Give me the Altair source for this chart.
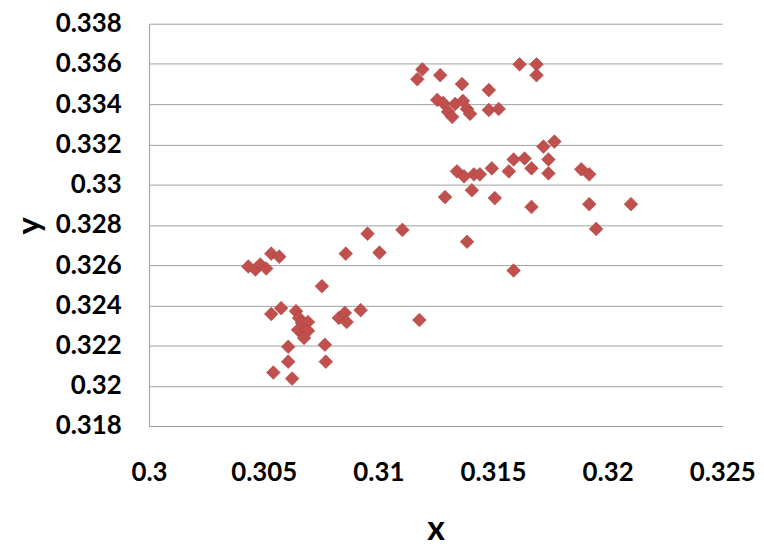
import altair as alt
import pandas as pd

xs = [0.30433, 0.30464, 0.30485, 0.30511, 0.30533, 0.30568, 0.30754, 0.30533, 0.30576, 0.30641,
      0.30654, 0.30667, 0.30693, 0.30650, 0.30672, 0.30693, 0.30676, 0.30607, 0.30767, 0.30607,
      0.30771, 0.30542, 0.30624, 0.30953, 0.31105, 0.30858, 0.31005, 0.30828, 0.30854, 0.30862,
      0.30923, 0.31179, 0.31192, 0.31170, 0.31270, 0.31365, 0.31482, 0.31616, 0.31690, 0.31690,
      0.31257, 0.31283, 0.31304, 0.31322, 0.31335, 0.31369, 0.31387, 0.31400, 0.31482, 0.31525,
      0.31720, 0.31768, 0.31742, 0.31742, 0.31343, 0.31374, 0.31417, 0.31443, 0.31495, 0.31569,
      0.31590, 0.31638, 0.31668, 0.31885, 0.31920, 0.31291, 0.31408, 0.31508, 0.31668, 0.31920,
      0.32102, 0.31950, 0.31387, 0.31590]
ys = [0.32593, 0.32578, 0.32603, 0.32583, 0.32657, 0.32642, 0.32495, 0.32357, 0.32386, 0.32371,
      0.32337, 0.32312, 0.32317, 0.32278, 0.32263, 0.32273, 0.32238, 0.32194, 0.32204, 0.32120,
      0.32120, 0.32066, 0.32036, 0.32756, 0.32775, 0.32657, 0.32662, 0.32337, 0.32362, 0.32317,
      0.32376, 0.32327, 0.33573, 0.33524, 0.33544, 0.33500, 0.33470, 0.33598, 0.33598, 0.33544,
      0.33421, 0.33406, 0.33362, 0.33337, 0.33401, 0.33416, 0.33376, 0.33352, 0.33371, 0.33376,
      0.33189, 0.33214, 0.33125, 0.33056, 0.33066, 0.33041, 0.33051, 0.33051, 0.33081, 0.33066,
      0.33125, 0.33130, 0.33081, 0.33076, 0.33051, 0.32938, 0.32972, 0.32933, 0.32889, 0.32903,
      0.32903, 0.32780, 0.32716, 0.32573]

x_ticks = [0.3, 0.305, 0.31, 0.315, 0.32, 0.325]
y_ticks = [0.318, 0.32, 0.322, 0.324, 0.326, 0.328, 0.33, 0.332, 0.334, 0.336, 0.338]

df = pd.DataFrame({"x": xs, "y": ys})

FONT = "Lato"

chart = alt.Chart(df).mark_point(
    shape="diamond", filled=True, size=190, color="#C0504D",
    stroke="#B3443F", strokeWidth=0.6, opacity=1
).encode(
    x=alt.X("x:Q", title="x",
            scale=alt.Scale(domain=[0.3, 0.325], nice=False, zero=False),
            axis=alt.Axis(values=x_ticks, format="~g", grid=False, ticks=False, tickSize=0,
                          domainColor="#A0A0A0", labelPadding=34, labelFlush=False,
                          labelFont=FONT, labelFontWeight="bold", labelFontSize=26, labelColor="#000000",
                          titleFont=FONT, titleFontWeight="bold", titleFontSize=34, titleColor="#000000",
                          titleBaseline="middle", titleY=104)),
    y=alt.Y("y:Q", title="y",
            scale=alt.Scale(domain=[0.318, 0.338], nice=False, zero=False),
            axis=alt.Axis(values=y_ticks, format="~g", grid=True, gridColor="#A0A0A0", gridWidth=1,
                          ticks=False, tickSize=0, domainColor="#A0A0A0", labelPadding=28,
                          labelFlush=False,
                          labelFont=FONT, labelFontWeight="bold", labelFontSize=26, labelColor="#000000",
                          titleFont=FONT, titleFontWeight="bold", titleFontSize=33, titleColor="#000000",
                          titleBaseline="middle", titleX=-120, titleY=203, titleAngle=270)),
).properties(
    width=577, height=405,
    autosize=alt.AutoSizeParams(type="none"),
    padding={"left": 142, "top": 14, "right": 34, "bottom": 123},
).configure_view(stroke=None)

chart.save("out.html", embed_options={"renderer": "svg", "actions": False})
